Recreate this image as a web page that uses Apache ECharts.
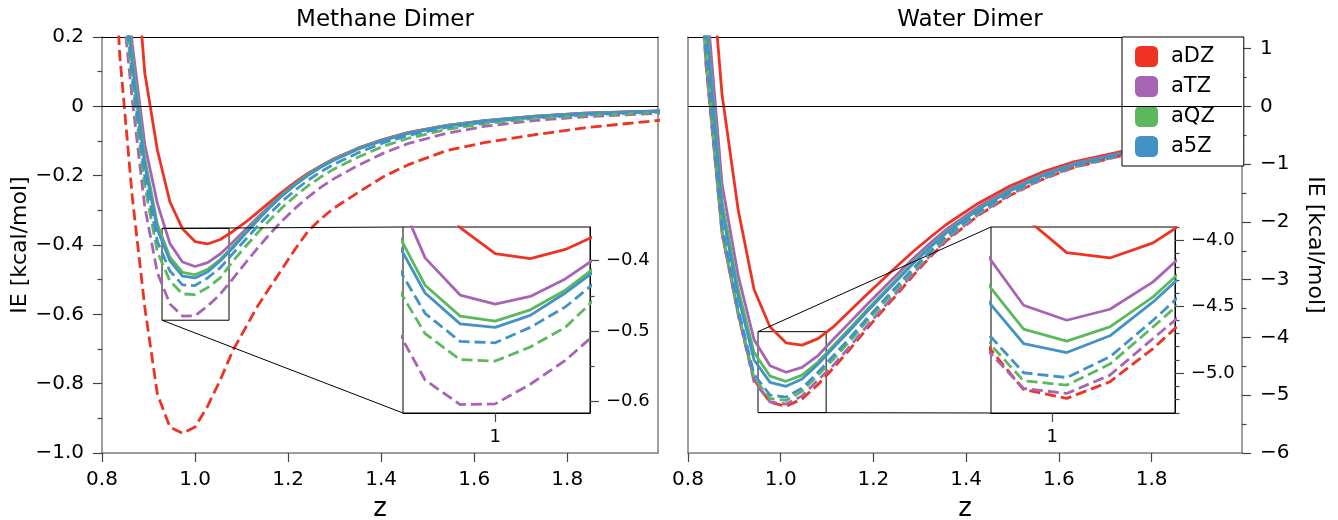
<!DOCTYPE html>
<html><head><meta charset="utf-8">
<script src="https://cdn.jsdelivr.net/npm/echarts@6/dist/echarts.min.js"></script>
<style>html,body{margin:0;padding:0;background:#fff}#c{width:1338px;height:520px}</style>
</head><body><div id="c"></div><script>
// ---------- data ----------
const basisNames = ['aDZ', 'aTZ', 'aQZ', 'a5Z'];
const basisColors = ['#ee3224', '#a864b4', '#5cb85c', '#4292c6'];

const zMethane = [0.811, 0.838, 0.865, 0.892, 0.919, 0.946, 0.973, 1.000, 1.027, 1.054, 1.081, 1.108, 1.135, 1.162, 1.189, 1.216, 1.243, 1.270, 1.297, 1.351, 1.405, 1.459, 1.540, 1.621, 1.729, 1.837, 2.000];
const methane_aDZ = [3.0, 1.5, 0.55, 0.096, -0.126, -0.276, -0.353, -0.390, -0.397, -0.384, -0.361, -0.335, -0.305, -0.275, -0.245, -0.218, -0.193, -0.172, -0.152, -0.120, -0.095, -0.075, -0.055, -0.041, -0.028, -0.020, -0.013];
const methane_aTZ = [2.0, 0.6, 0.18, -0.11, -0.28, -0.396, -0.449, -0.462, -0.451, -0.426, -0.392, -0.356, -0.320, -0.285, -0.252, -0.222, -0.196, -0.173, -0.153, -0.121, -0.096, -0.076, -0.056, -0.042, -0.029, -0.020, -0.013];
const methane_aQZ = [1.8, 0.5, 0.14, -0.15, -0.34, -0.435, -0.479, -0.486, -0.470, -0.442, -0.404, -0.364, -0.325, -0.288, -0.254, -0.224, -0.197, -0.174, -0.154, -0.122, -0.097, -0.077, -0.056, -0.042, -0.029, -0.021, -0.014];
const methane_a5Z = [1.7, 0.48, 0.12, -0.17, -0.355, -0.446, -0.490, -0.495, -0.478, -0.446, -0.409, -0.368, -0.328, -0.290, -0.256, -0.226, -0.199, -0.176, -0.156, -0.123, -0.098, -0.078, -0.057, -0.043, -0.030, -0.021, -0.014];
const methane_aDZ_dashed = [0.9, 0.15, -0.26, -0.58, -0.83, -0.925, -0.943, -0.925, -0.865, -0.79, -0.705, -0.64, -0.575, -0.52, -0.465, -0.41, -0.36, -0.325, -0.295, -0.248, -0.203, -0.168, -0.128, -0.105, -0.082, -0.062, -0.040];
const methane_aTZ_dashed = [1.4, 0.38, 0.02, -0.29, -0.48, -0.570, -0.605, -0.604, -0.576, -0.542, -0.498, -0.452, -0.408, -0.366, -0.328, -0.293, -0.262, -0.234, -0.210, -0.170, -0.135, -0.107, -0.078, -0.058, -0.041, -0.030, -0.020];
const methane_aQZ_dashed = [1.5, 0.42, 0.07, -0.23, -0.42, -0.504, -0.541, -0.543, -0.523, -0.495, -0.447, -0.405, -0.364, -0.326, -0.290, -0.258, -0.229, -0.204, -0.182, -0.146, -0.115, -0.092, -0.067, -0.050, -0.035, -0.026, -0.017];
const methane_a5Z_dashed = [1.6, 0.45, 0.09, -0.20, -0.39, -0.475, -0.515, -0.517, -0.495, -0.466, -0.425, -0.385, -0.345, -0.307, -0.272, -0.241, -0.213, -0.189, -0.168, -0.134, -0.105, -0.084, -0.061, -0.046, -0.032, -0.023, -0.015];

const zWater = [0.8045, 0.839, 0.8735, 0.908, 0.9425, 0.977, 1.0115, 1.046, 1.0805, 1.115, 1.1495, 1.184, 1.2185, 1.253, 1.2875, 1.322, 1.3565, 1.4255, 1.4945, 1.5635, 1.6325, 1.736, 1.8395, 2.012];
const water_aDZ = [7.0, 3.57, 0.2, -1.78, -3.17, -3.82, -4.093, -4.133, -4.02, -3.807, -3.54, -3.27, -3.01, -2.75, -2.50, -2.27, -2.05, -1.68, -1.38, -1.14, -0.96, -0.78, -0.63, -0.45];
const water_aTZ = [6.0, 1.95, -1.35, -2.92, -4.04, -4.489, -4.602, -4.519, -4.313, -4.017, -3.735, -3.446, -3.17, -2.893, -2.622, -2.371, -2.134, -1.743, -1.428, -1.178, -0.989, -0.801, -0.645, -0.459];
const water_aQZ = [5.8, 1.55, -1.65, -3.15, -4.26, -4.669, -4.759, -4.652, -4.426, -4.130, -3.838, -3.539, -3.253, -2.968, -2.686, -2.424, -2.178, -1.776, -1.454, -1.198, -1.005, -0.812, -0.652, -0.464];
const water_a5Z = [5.7, 1.4, -1.8, -3.28, -4.39, -4.777, -4.845, -4.719, -4.464, -4.166, -3.875, -3.572, -3.284, -2.995, -2.709, -2.443, -2.194, -1.788, -1.463, -1.205, -1.01, -0.816, -0.655, -0.466];
const water_aDZ_dashed = [5.2, 0.7, -2.2, -3.58, -4.73, -5.123, -5.190, -5.065, -4.815, -4.517, -4.20, -3.866, -3.55, -3.233, -2.912, -2.611, -2.334, -1.893, -1.543, -1.268, -1.059, -0.851, -0.68, -0.482];
const water_aTZ_dashed = [5.3, 0.75, -2.2, -3.6, -4.77, -5.115, -5.153, -5.015, -4.739, -4.469, -4.154, -3.824, -3.512, -3.199, -2.883, -2.587, -2.314, -1.878, -1.532, -1.259, -1.052, -0.846, -0.676, -0.48];
const water_aQZ_dashed = [5.4, 0.8, -2.15, -3.55, -4.70, -5.058, -5.090, -4.932, -4.652, -4.364, -4.061, -3.74, -3.436, -3.131, -2.825, -2.539, -2.274, -1.848, -1.509, -1.241, -1.038, -0.836, -0.669, -0.475];
const water_a5Z_dashed = [5.5, 0.95, -2.05, -3.5, -4.64, -4.997, -5.033, -4.877, -4.602, -4.304, -4.005, -3.69, -3.39, -3.09, -2.79, -2.51, -2.25, -1.83, -1.495, -1.23, -1.03, -0.83, -0.665, -0.473];

const xTicks = [0.8, 1.0, 1.2, 1.4, 1.6, 1.8];
const xRange = [0.8, 1.995];
const methaneYRange = [-1.0, 0.2];
const methaneYTicks = [-1.0, -0.8, -0.6, -0.4, -0.2, 0, 0.2];
const methaneYMinor = [-0.9, -0.7, -0.5, -0.3, -0.1, 0.1];
const waterYRange = [-6, 1.2];
const waterYTicks = [-6, -5, -4, -3, -2, -1, 0, 1];
const waterYMinor = [-5.5, -4.5, -3.5, -2.5, -1.5, -0.5, 0.5];
const methaneInsetX = [0.929, 1.073];
const methaneInsetY = [-0.617, -0.352];
const methaneInsetTicks = [-0.6, -0.5, -0.4];
const methaneInsetMinor = [-0.55, -0.45];
const waterInsetX = [0.951, 1.098];
const waterInsetY = [-5.30, -3.90];
const waterInsetTicks = [-5.0, -4.5, -4.0];
const waterInsetMinor = [-5.3, -5.2, -5.1, -4.9, -4.8, -4.7, -4.6, -4.4, -4.3, -4.2, -4.1, -3.9];
const insetXTicks = [1];

// ---------- chart ----------
const FONT = 'DejaVu Sans';
const AXC = '#7f7f7f';
const TICKC = '#444';
const fmt1 = v => (v === 0 ? '0' : v.toFixed(1)).replace('-', '\u2212');
const fmt0 = v => String(Math.round(v)).replace('-', '\u2212');

function lineAxis(grid, range, pos, color) {
  return { gridIndex: grid, type: 'value', min: range[0], max: range[1], position: pos,
    axisLine: { show: true, onZero: false, lineStyle: { color: color, width: color === '#000' ? 1 : 1.5 } },
    axisTick: { show: false }, axisLabel: { show: false }, splitLine: { show: false } };
}
function tickAxis(grid, range, pos, ticks, fmt, fs, margin, lineColor, extra) {
  return Object.assign({ gridIndex: grid, type: 'value', min: range[0], max: range[1], position: pos,
    axisLine: { show: true, onZero: false, lineStyle: { color: lineColor, width: lineColor === '#000' ? 1 : 1.5 } },
    axisTick: { show: true, length: 9, customValues: ticks, lineStyle: { color: TICKC, width: 1.2 } },
    axisLabel: { show: true, customValues: ticks, formatter: fmt, fontSize: fs, fontFamily: FONT, color: '#000', margin: margin },
    splitLine: { show: false } }, extra || {});
}
function minorAxis(grid, range, pos, ticks) {
  return { gridIndex: grid, type: 'value', min: range[0], max: range[1], position: pos,
    axisLine: { show: false, onZero: false },
    axisTick: { show: true, length: 4.5, customValues: ticks, lineStyle: { color: TICKC, width: 1.2 } },
    axisLabel: { show: false }, splitLine: { show: false } };
}

const xAxis = [
  tickAxis(0, xRange, 'bottom', xTicks, v => v.toFixed(1), 20, 17, AXC,
    { name: 'z', nameLocation: 'middle', nameGap: 43, nameTextStyle: { fontSize: 26, fontFamily: FONT, color: '#000' } }),
  lineAxis(0, xRange, 'top', '#000'),
  tickAxis(1, xRange, 'bottom', xTicks, v => v.toFixed(1), 20, 17, AXC,
    { name: 'z', nameLocation: 'middle', nameGap: 43, nameTextStyle: { fontSize: 26, fontFamily: FONT, color: '#000' } }),
  lineAxis(1, xRange, 'top', '#000'),
  tickAxis(2, methaneInsetX, 'bottom', insetXTicks, v => String(v), 18, 15, '#000'),
  tickAxis(3, waterInsetX, 'bottom', insetXTicks, v => String(v), 18, 15, '#000')
];
const yAxis = [
  tickAxis(0, methaneYRange, 'left', methaneYTicks, fmt1, 20, 18, AXC,
    { name: 'IE [kcal/mol]', nameLocation: 'middle', nameGap: 70, nameRotate: 90, nameTextStyle: { fontSize: 22, fontFamily: FONT, color: '#000' } }),
  minorAxis(0, methaneYRange, 'left', methaneYMinor),
  lineAxis(0, methaneYRange, 'right', AXC),
  tickAxis(1, waterYRange, 'right', waterYTicks, fmt0, 20, 18, AXC,
    { name: 'IE [kcal/mol]', nameLocation: 'middle', nameGap: 62, nameRotate: -90, nameTextStyle: { fontSize: 22, fontFamily: FONT, color: '#000' } }),
  minorAxis(1, waterYRange, 'right', waterYMinor),
  lineAxis(1, waterYRange, 'left', AXC),
  tickAxis(2, methaneInsetY, 'right', methaneInsetTicks, fmt1, 18, 16, '#000'),
  minorAxis(2, methaneInsetY, 'right', methaneInsetMinor),
  tickAxis(3, waterInsetY, 'right', waterInsetTicks, fmt1, 18, 16, '#000'),
  minorAxis(3, waterInsetY, 'right', waterInsetMinor)
];

const methaneSets = [
  [methane_aDZ, 0, false], [methane_aTZ, 1, false], [methane_aQZ, 2, false], [methane_a5Z, 3, false],
  [methane_aDZ_dashed, 0, true], [methane_aTZ_dashed, 1, true], [methane_aQZ_dashed, 2, true], [methane_a5Z_dashed, 3, true]
];
const waterSets = [
  [water_aDZ, 0, false], [water_aTZ, 1, false], [water_aQZ, 2, false], [water_a5Z, 3, false],
  [water_aDZ_dashed, 0, true], [water_aTZ_dashed, 1, true], [water_aQZ_dashed, 2, true], [water_a5Z_dashed, 3, true]
];

function mk(zs, set, xi, yi) {
  const [vals, b, dashed] = set;
  const c = basisColors[b];
  return { type: 'line', name: basisNames[b], xAxisIndex: xi, yAxisIndex: yi,
    data: zs.map((z, i) => [z, vals[i]]), showSymbol: false, symbol: 'none', clip: true, silent: true,
    lineStyle: { color: c, width: 2.8, type: dashed ? [11, 5] : 'solid', cap: 'butt' },
    itemStyle: { color: c }, z: 2 };
}
const series = [];
const panels = [
  { z: zMethane, sets: methaneSets, main: [0, 0], inset: [4, 6], ix: methaneInsetX, iy: methaneInsetY },
  { z: zWater, sets: waterSets, main: [2, 3], inset: [5, 8], ix: waterInsetX, iy: waterInsetY }
];
panels.forEach(p => {
  p.sets.forEach((s, k) => {
    const ser = mk(p.z, s, p.main[0], p.main[1]);
    if (k === 0) {
      ser.markLine = { silent: true, symbol: 'none', label: { show: false }, animation: false,
        lineStyle: { color: '#000', width: 1, type: 'solid' }, data: [{ yAxis: 0 }] };
    }
    if (k === p.sets.length - 1) {
      ser.markArea = { silent: true, animation: false, label: { show: false },
        itemStyle: { color: 'rgba(0,0,0,0)', borderColor: '#000', borderWidth: 1 },
        data: [[{ coord: [p.ix[0], p.iy[1]] }, { coord: [p.ix[1], p.iy[0]] }]] };
      ser.z = 3;
    }
    series.push(ser);
  });
  p.sets.forEach(s => series.push(mk(p.z, s, p.inset[0], p.inset[1])));
});

const chart = echarts.init(document.getElementById('c'));
chart.setOption({
  animation: false,
  backgroundColor: '#fff',
  textStyle: { fontFamily: FONT },
  title: [
    { text: 'Methane Dimer', left: 380, top: 4, textAlign: 'center', textStyle: { fontSize: 23, fontWeight: 'normal', color: '#000', fontFamily: FONT } },
    { text: 'Water Dimer', left: 965, top: 4, textAlign: 'center', textStyle: { fontSize: 23, fontWeight: 'normal', color: '#000', fontFamily: FONT } }
  ],
  grid: [
    { left: 102, top: 37, width: 556, height: 416, outerBoundsMode: 'none' },
    { left: 688, top: 37, width: 554, height: 416, outerBoundsMode: 'none' },
    { left: 403, top: 227, width: 187, height: 186, show: true, borderColor: '#000', borderWidth: 1, backgroundColor: '#fff', outerBoundsMode: 'none' },
    { left: 991, top: 227, width: 184, height: 186, show: true, borderColor: '#000', borderWidth: 1, backgroundColor: '#fff', outerBoundsMode: 'none' }
  ],
  legend: {
    orient: 'vertical', left: 1122, top: 37, selectedMode: false,
    itemWidth: 23, itemHeight: 21, itemGap: 9, padding: [9, 29, 9, 13],
    borderColor: '#000', borderWidth: 1, backgroundColor: '#fff', borderRadius: 0,
    textStyle: { fontSize: 21, fontFamily: FONT, color: '#000', padding: [0, 0, 0, 8] },
    data: basisNames.map((n, i) => ({ name: n, icon: 'roundRect', itemStyle: { color: basisColors[i], borderWidth: 0 } }))
  },
  xAxis: xAxis,
  yAxis: yAxis,
  series: series
});

// connector lines between zoom rectangles and insets
const px = (xi, yi, pt) => chart.convertToPixel({ xAxisIndex: xi, yAxisIndex: yi }, pt);
const graphics = [];
panels.forEach(p => {
  const rUL = px(p.main[0], p.main[1], [p.ix[0], p.iy[1]]);
  const rLL = px(p.main[0], p.main[1], [p.ix[0], p.iy[0]]);
  const iUL = px(p.inset[0], p.inset[1], [p.ix[0], p.iy[1]]);
  const iLL = px(p.inset[0], p.inset[1], [p.ix[0], p.iy[0]]);
  [[rUL, iUL], [rLL, iLL]].forEach(([a, b]) => graphics.push({
    type: 'line', silent: true, z: 3,
    shape: { x1: a[0], y1: a[1], x2: b[0], y2: b[1] },
    style: { stroke: '#000', lineWidth: 1 }
  }));
});
chart.setOption({ graphic: graphics });
</script></body></html>
